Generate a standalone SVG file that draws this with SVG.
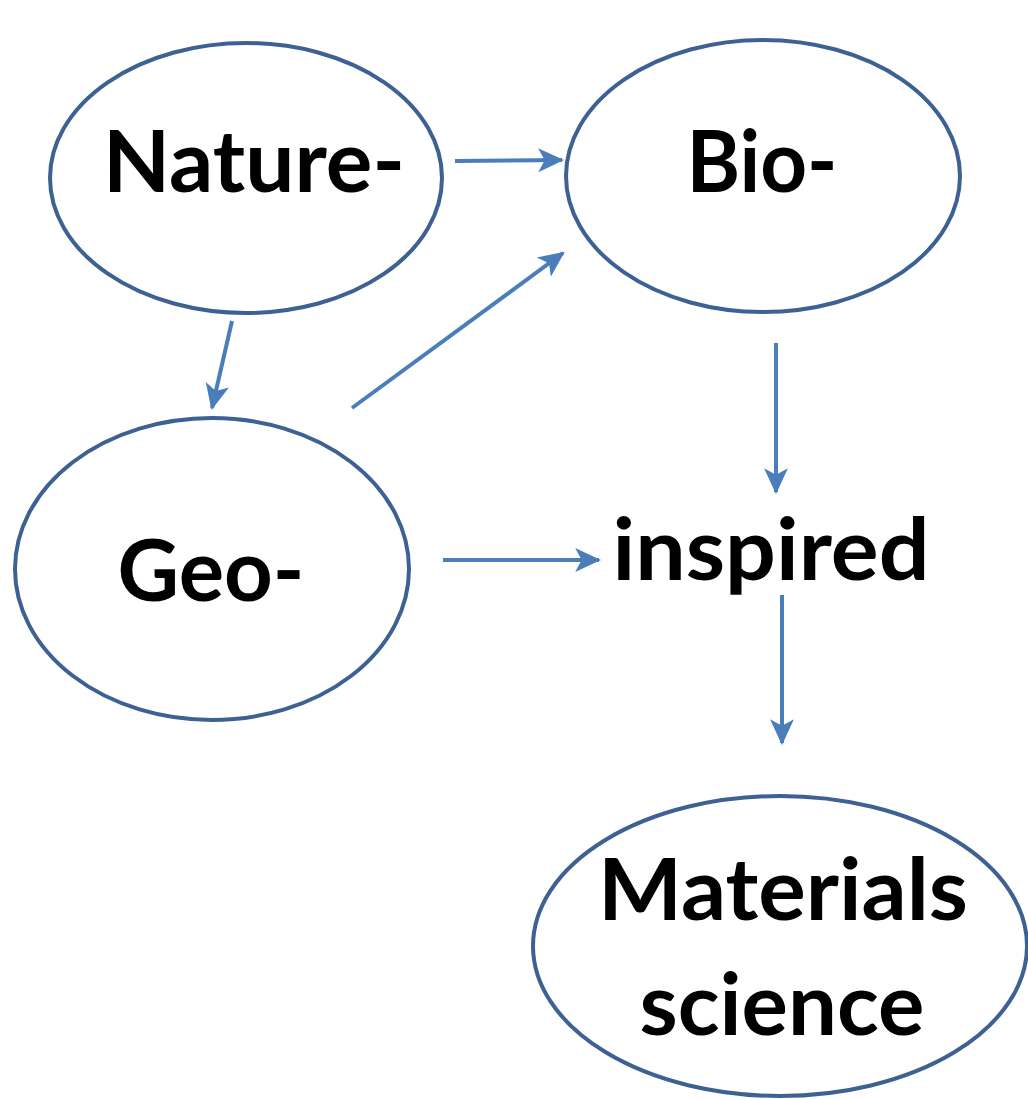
<svg xmlns="http://www.w3.org/2000/svg" width="1028" height="1100" viewBox="0 0 1028 1100">
<style>
.node{fill:#ffffff;stroke:#3d6192;stroke-width:4}
.lbl{font-family:Lato,"Open Sans","Liberation Sans",sans-serif;font-weight:bold;font-size:86px;fill:#000000}
.edge{fill:none;stroke:#4a7ebb;stroke-width:4}
</style>
<defs>
<marker id="ah" markerUnits="userSpaceOnUse" markerWidth="26" markerHeight="26" viewBox="0 0 24 24" refX="22" refY="12" orient="auto">
<path d="M0,1 L24,12 L0,23 L6,12 z" fill="#4a7ebb"/>
</marker>
</defs>
<rect width="1028" height="1100" fill="#ffffff"/>
<g id="nature">
<ellipse class="node" cx="246" cy="178" rx="196" ry="135"/>
<text class="lbl" x="254" y="192" text-anchor="middle" textLength="302" lengthAdjust="spacingAndGlyphs">Nature-</text>
</g>
<g id="bio">
<ellipse class="node" cx="763" cy="176" rx="197" ry="136"/>
<text class="lbl" x="762" y="192" text-anchor="middle" textLength="151" lengthAdjust="spacingAndGlyphs">Bio-</text>
</g>
<g id="geo">
<ellipse class="node" cx="212" cy="569" rx="197" ry="151"/>
<text class="lbl" x="211" y="601" text-anchor="middle" textLength="187" lengthAdjust="spacingAndGlyphs">Geo-</text>
</g>
<g id="inspired">
<text class="lbl" x="771" y="580" text-anchor="middle" textLength="317" lengthAdjust="spacingAndGlyphs">inspired</text>
</g>
<g id="materials">
<ellipse class="node" cx="780" cy="946" rx="247" ry="150"/>
<text class="lbl" x="783" y="920" text-anchor="middle" textLength="370" lengthAdjust="spacingAndGlyphs">Materials</text>
<text class="lbl" x="782" y="1035" text-anchor="middle" textLength="285" lengthAdjust="spacingAndGlyphs">science</text>
</g>
<g id="connectors">
<line class="edge" x1="455" y1="161" x2="562" y2="160" marker-end="url(#ah)"/>
<line class="edge" x1="232" y1="321" x2="212" y2="408" marker-end="url(#ah)"/>
<line class="edge" x1="352" y1="408" x2="563" y2="253" marker-end="url(#ah)"/>
<line class="edge" x1="776" y1="343" x2="776" y2="492" marker-end="url(#ah)"/>
<line class="edge" x1="443" y1="560" x2="599" y2="560" marker-end="url(#ah)"/>
<line class="edge" x1="782" y1="595" x2="782" y2="743" marker-end="url(#ah)"/>
</g>
</svg>
